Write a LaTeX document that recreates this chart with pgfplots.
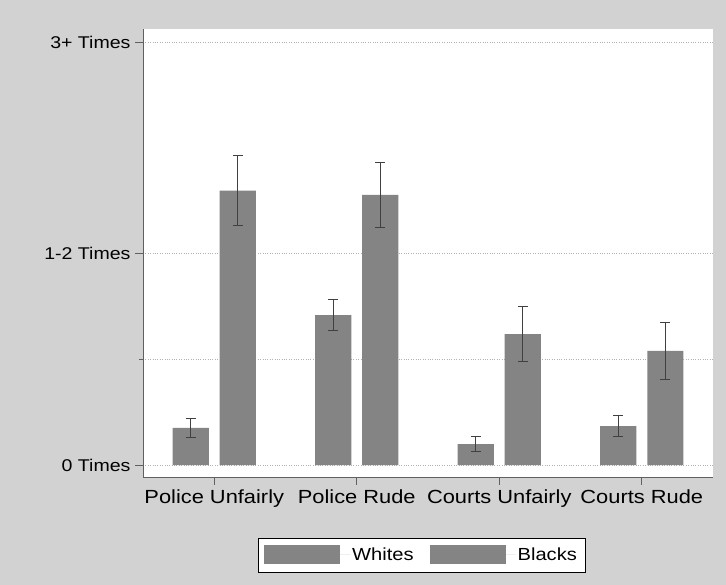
\documentclass[border=0pt]{standalone}
\usepackage{fontspec}
\setmainfont[FakeStretch=1.15]{Liberation Sans}
\usepackage{pgfplots}
\usepackage{pgfplotstable}
\pgfplotsset{compat=1.18}
\definecolor{bgc}{HTML}{D2D2D2}
\definecolor{barc}{HTML}{848484}
\definecolor{errc}{HTML}{404040}
\definecolor{axc}{HTML}{606060}
\pgfplotstableread{
xw xb w we b be
-0.165 0.165 0.175 0.045 1.297 0.165
0.835 1.165 0.709 0.072 1.277 0.155
1.835 2.165 0.099 0.037 0.619 0.130
2.835 3.165 0.184 0.048 0.540 0.135
}\datatab
\begin{document}
\begin{tikzpicture}[x=1bp,y=1bp]
\fill[bgc] (0,0) rectangle (726,585);
\path[use as bounding box] (0,0) rectangle (726,585);
\begin{axis}[
  at={(143bp,108bp)}, anchor=south west,
  scale only axis, width=570bp, height=448bp,
  xmin=-0.5, xmax=3.5, ymin=-0.0567, ymax=2.0615,
  axis background/.style={fill=white},
  axis x line*=bottom, axis y line*=left,
  axis line style={axc, line width=0.8pt, -},
  xtick={0,1,2,3},
  xticklabels={Police Unfairly,Police Rude,Courts Unfairly,Courts Rude},
  ytick={0,1,2}, minor ytick={0.5},
  yticklabels={0 Times,1-2 Times,3+ Times},
  ymajorgrids, yminorgrids,
  major grid style={gray!60, dotted, line width=0.6pt},
  minor grid style={gray!60, dotted, line width=0.6pt},
  tick align=outside,
  major tick length=8bp, minor tick length=4bp,
  tick style={axc, line width=0.6pt},
  xticklabel style={font=\fontsize{19bp}{22bp}\selectfont, yshift=-1bp},
  yticklabel style={font=\fontsize{17bp}{20bp}\selectfont, xshift=-1bp},
  legend style={at={(0.4886,-0.174)}, anchor=center, draw=black, fill=white,
    font=\fontsize{17.5bp}{20bp}\selectfont, /tikz/every even column/.append style={column sep=14bp},
    inner xsep=6bp, inner ysep=7.5bp},
  legend columns=2,
  legend image code/.code={\fill[barc] (0bp,-9.5bp) rectangle (76bp,9.5bp); \path (0bp,0bp) -- (86bp,0bp);},
  legend cell align=left,
]
\addplot[ybar, bar width=0.253, bar shift=0, fill=barc, draw=none,
  error bars/.cd, y dir=both, y explicit,
  error bar style={errc, line width=1pt},
  error mark options={errc, line width=1pt, mark size=5bp, rotate=90}]
  table[x=xw, y=w, y error=we] {\datatab};
\addlegendentry{Whites}
\addplot[ybar, bar width=0.253, bar shift=0, fill=barc, draw=none,
  error bars/.cd, y dir=both, y explicit,
  error bar style={errc, line width=1pt},
  error mark options={errc, line width=1pt, mark size=5bp, rotate=90}]
  table[x=xb, y=b, y error=be] {\datatab};
\addlegendentry{Blacks}
\end{axis}
\end{tikzpicture}
\end{document}
